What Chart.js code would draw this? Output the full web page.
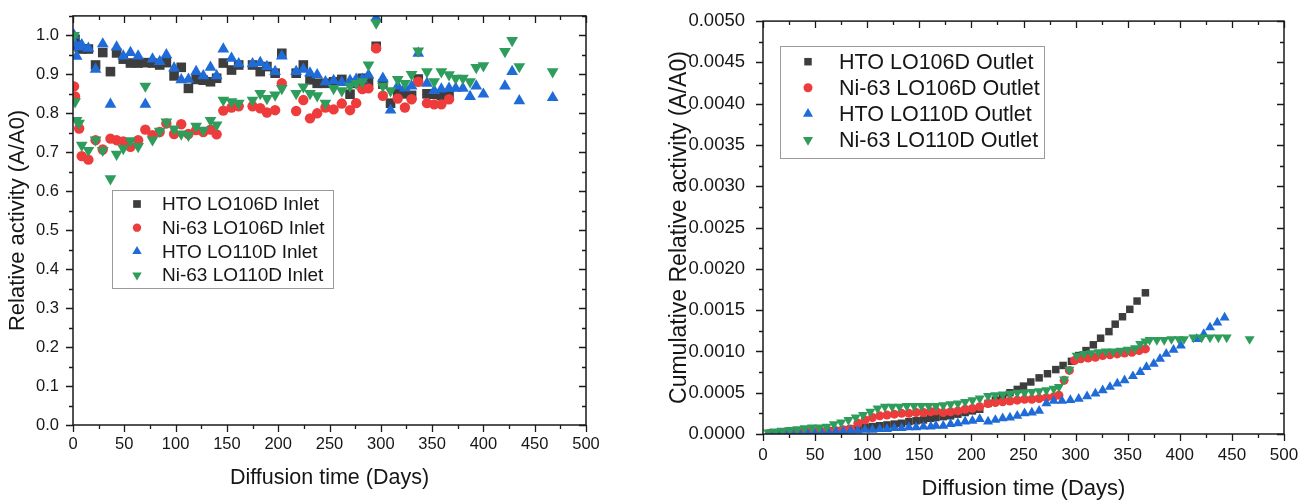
<!DOCTYPE html>
<html>
<head>
<meta charset="utf-8">
<script src="https://cdn.jsdelivr.net/npm/chart.js@4.4.1/dist/chart.umd.min.js"></script>
<style>
  body { margin: 0; background: #fff; width: 1311px; height: 502px; position: relative; overflow: hidden; }
  #inletWrap { position: absolute; left: 0; top: 0; }
  #outletWrap { position: absolute; left: 640px; top: 0; }
</style>
</head>
<body>
<div id="inletWrap"><canvas id="inletChart" width="625" height="502"></canvas></div>
<div id="outletWrap"><canvas id="outletChart" width="671" height="502"></canvas></div>
<script>
// ---- Inlet (left panel) ----
const inletDays = [1, 2, 3.5, 6, 8.5, 15, 22, 29, 36.5, 42.5, 49, 56, 63.5, 70.5, 77.5, 84.5, 91, 98.5, 105.5, 112.5,
  120, 127, 134, 140, 146.5, 154.5, 161.5, 175, 182.5, 189, 197, 203.5, 217.5, 224.5, 231, 238, 246, 254, 262, 270,
  276, 282, 288, 295.5, 302, 309.5, 316.5, 323.5, 330, 336.5, 345, 352, 359, 366.5, 373, 380, 387, 393, 400, 421,
  428, 435, 467.5];
const htoInlet106 = [null, 0.99, 0.975, 0.97, 0.965, 0.965, 0.924, 0.956, 0.907, 0.955, 0.939, 0.929, 0.929, 0.93, 0.929, 0.924, 0.93, 0.896, 0.918, 0.864,
  0.887, 0.885, 0.881, 0.89, 0.929, 0.911, 0.924, 0.924, 0.907, 0.92, 0.903, 0.954, 0.903, 0.924, 0.886, 0.877, 0.877, 0.881, 0.887, 0.849,
  0.877, 0.89, 0.881, 0.972, 0.875, 0.826, 0.85, 0.85, 0.846, 0.888, 0.85, 0.849, 0.846, 0.85, null, null, null, null, null, null,
  null, null, null];
const niInlet106 = [0.869, 0.843, null, 0.761, 0.69, 0.681, 0.731, 0.707, 0.735, 0.731, 0.728, 0.714, 0.731, 0.758, 0.744, 0.752, 0.774, 0.747, 0.772, 0.747,
  0.757, 0.752, 0.758, 0.746, 0.807, 0.815, 0.818, 0.818, 0.813, 0.802, 0.808, 0.877, 0.806, 0.834, 0.787, 0.8, 0.815, 0.81, 0.825, 0.808,
  0.826, 0.862, 0.864, 0.967, 0.845, null, 0.838, 0.815, 0.836, 0.881, 0.826, 0.823, 0.823, 0.836, null, null, null, null, null, null,
  null, null, null];
const htoInlet110 = [1.0, 0.978, 0.946, 0.97, 0.976, 0.967, 0.913, 0.978, 0.823, 0.97, 0.947, 0.956, 0.947, 0.823, 0.939, 0.933, 0.95, 0.916, 0.886, 0.887,
  0.907, 0.896, 0.918, 0.896, 0.965, 0.941, 0.927, 0.927, 0.93, 0.92, 0.907, 0.947, 0.907, 0.913, 0.903, 0.899, 0.881, 0.884, 0.879, 0.884,
  0.887, 0.887, 0.898, 1.045, 0.89, 0.808, 0.87, 0.865, 0.87, 0.954, 0.877, 0.858, 0.862, 0.864, 0.864, 0.864, 0.843, 0.87, 0.849, 0.87,
  0.907, 0.832, 0.84];
const niInlet110 = [1.0, 0.83, 0.782, 0.775, 0.718, 0.705, 0.732, 0.705, 0.632, 0.695, 0.71, 0.73, 0.715, 0.87, 0.732, 0.754, 0.778, 0.76, 0.747, 0.744,
  0.767, 0.757, 0.782, 0.77, 0.834, 0.83, 0.826, 0.834, 0.851, 0.838, 0.847, 0.864, 0.851, 0.868, 0.851, 0.845, 0.826, 0.864, 0.858, 0.87,
  0.877, 0.881, 0.924, 1.032, 0.87, 0.858, 0.887, 0.877, 0.9, 0.96, 0.907, 0.881, 0.907, 0.899, 0.89, 0.89, 0.881, 0.918, 0.922, 0.959,
  0.987, 0.92, 0.907];

// ---- Outlet (right panel), cumulative ----
const htoOutlet106Days = [7, 14, 21, 28, 35, 42, 49, 56, 63, 70, 77, 84, 91, 98, 105, 112, 119, 126, 133, 140, 147, 154, 161, 166,
  173, 180, 187, 194, 201, 208, 216, 223, 230, 237, 244, 250, 257, 265, 273, 281, 288, 296, 303, 310, 317, 324, 332, 338, 345, 352, 359, 367];
const htoOutlet106 = [0.00001, 0.00001, 0.00002, 0.00002, 0.00002, 0.00003, 0.00003, 0.00003, 0.00004, 0.00004, 0.00005, 0.00006,
  0.00007, 0.00008, 0.00009, 0.0001, 0.00011, 0.00012, 0.00013, 0.00015, 0.00016, 0.00017, 0.00019, 0.0002,
  0.00021, 0.00022, 0.00024, 0.00026, 0.00028, 0.0003, 0.00037, 0.00041, 0.00045, 0.0005, 0.00054, 0.00058,
  0.00063, 0.00068, 0.00073, 0.00078, 0.00083, 0.00088, 0.00095, 0.00101, 0.00108, 0.00116, 0.00124, 0.00133,
  0.00142, 0.00151, 0.00161, 0.00171];
const niOutlet106Days = [7, 14, 21, 28, 35, 42, 49, 56, 63, 70, 77, 84, 91, 98, 105, 112, 119, 126, 133, 140, 147, 154, 161, 166,
  173, 180, 187, 194, 201, 208, 216, 223, 230, 237, 244, 251, 258, 265, 272, 279, 284, 289, 294, 299, 305, 312, 319, 326, 333, 340,
  347, 354, 361, 367];
const niOutlet106 = [0.00001, 0.00001, 0.00002, 0.00002, 0.00002, 0.00003, 0.00003, 0.00003, 0.00004, 0.00004, 0.00005, 0.00006,
  0.00013, 0.00017, 0.0002, 0.00022, 0.00023, 0.00024, 0.00025, 0.00025, 0.00026, 0.00026, 0.00027, 0.00028,
  0.00026, 0.00027, 0.00028, 0.0003, 0.00031, 0.00033, 0.00037, 0.00038, 0.00039, 0.0004, 0.00041, 0.00042,
  0.00042, 0.00043, 0.00044, 0.00045, 0.00047, 0.00065, 0.00077, 0.00089, 0.00091, 0.00092, 0.00093, 0.00095,
  0.00096, 0.00097, 0.00098, 0.00099, 0.00101, 0.00103];
const htoOutlet110Days = [7, 14, 21, 28, 35, 42, 49, 56, 63, 70, 77, 84, 91, 98, 105, 112, 119, 126, 133, 140, 147, 154, 161, 166,
  173, 180, 187, 194, 201, 208, 216, 223, 230, 237, 244, 251, 258, 265, 272, 279, 287, 295, 303, 311, 319, 326, 333, 340, 347, 355,
  362, 368, 375, 381, 387, 394, 401, 416, 423, 429, 436, 443];
const htoOutlet110 = [0, 0.00001, 0.00001, 0.00001, 0.00001, 0.00002, 0.00002, 0.00002, 0.00002, 0.00003, 0.00003, 0.00004,
  0.00004, 0.00005, 0.00005, 0.00006, 0.00006, 0.00007, 0.00007, 0.00008, 0.00008, 0.00009, 0.00009, 0.0001,
  0.0001, 0.00012, 0.00013, 0.00015, 0.00016, 0.00018, 0.00015, 0.00017, 0.00019, 0.0002, 0.00022, 0.00025,
  0.00026, 0.00028, 0.00037, 0.0004, 0.0004, 0.00041, 0.000425, 0.000456, 0.00049, 0.00053, 0.00057, 0.00061,
  0.00065, 0.0007, 0.00075, 0.00081, 0.00085, 0.00091, 0.00097, 0.00102, 0.00107, 0.00115, 0.00121, 0.00129,
  0.00135, 0.00141];
const niOutlet110Days = [5, 12, 19, 26, 33, 40, 47, 54, 61, 68, 75, 82, 89, 96, 103, 110, 117, 124, 131, 138, 145, 152, 159, 166,
  173, 180, 187, 194, 201, 208, 216, 223, 230, 237, 244, 251, 258, 265, 272, 279, 284, 289, 294, 301, 308, 315, 322, 329, 336, 343,
  350, 357, 362, 367, 371, 378, 385, 392, 399, 404, 413, 421, 429, 437, 445, 467];
const niOutlet110 = [0.00002, 0.00003, 0.00004, 0.00005, 0.00006, 0.00007, 0.00008, 0.00008, 0.00009, 0.00012, 0.00014, 0.00017,
  0.0002, 0.00023, 0.00027, 0.00031, 0.00033, 0.00033, 0.00033, 0.00034, 0.00034, 0.00034, 0.00034, 0.00034,
  0.00035, 0.00036, 0.00037, 0.00039, 0.00041, 0.00043, 0.00046, 0.00047, 0.00048, 0.00049, 0.0005, 0.0005,
  0.00051, 0.00052, 0.00053, 0.00055, 0.00057, 0.00066, 0.00078, 0.00095, 0.00097, 0.00098, 0.00099, 0.001,
  0.001, 0.00101, 0.00102, 0.00104, 0.00109, 0.00112, 0.00114, 0.00114, 0.00114, 0.00115, 0.00115, 0.00115,
  0.00117, 0.00117, 0.00117, 0.00117, 0.00117, 0.00115];

const xTicks = [0, 50, 100, 150, 200, 250, 300, 350, 400, 450, 500];

const FONT = "'Liberation Sans', Arial, sans-serif";
const BLACK = "#3d3d3d", RED = "#ee3b3b", BLUE = "#1f6bd8", GREEN = "#2e9d5c";

Chart.defaults.font.family = FONT;
Chart.defaults.color = "#161616";

function pts(days, vals) {
  return days.map((d, i) => ({ x: d, y: vals[i] })).filter(p => p.y !== null);
}

function series(label, data, color, style, r, rot, order) {
  return {
    label: label,
    data: data,
    backgroundColor: color,
    borderColor: color,
    borderWidth: 0,
    pointStyle: style,
    pointRotation: rot,
    pointRadius: r,
    pointHoverRadius: r,
    order: order,
  };
}

// frame with ticks on all four sides (outward bottom/left, inward top/right)
const frameTicks = {
  id: "frameTicks",
  afterDatasetsDraw(chart, args, o) {
    const { ctx, chartArea: a, scales } = chart;
    const x = scales.x, y = scales.y;
    ctx.save();
    ctx.strokeStyle = "#1a1a1a";
    ctx.lineWidth = 1.5;
    ctx.strokeRect(a.left, a.top, a.right - a.left, a.bottom - a.top);
    ctx.lineWidth = 1.3;
    ctx.beginPath();
    for (let i = 0; i <= Math.round((x.max - x.min) / o.xMinor); i++) {
      const v = x.min + i * o.xMinor;
      const px = Math.round(x.getPixelForValue(v)) + 0.5;
      const len = i % 2 === 0 ? 7 : 4;
      ctx.moveTo(px, a.bottom); ctx.lineTo(px, a.bottom + len);
      ctx.moveTo(px, a.top); ctx.lineTo(px, a.top + len);
    }
    for (let i = 0; i <= Math.floor((y.max - y.min) / o.yMinor + 1e-6); i++) {
      const v = y.min + i * o.yMinor;
      const py = Math.round(y.getPixelForValue(v)) + 0.5;
      const len = i % 2 === 0 ? 7 : 4;
      ctx.moveTo(a.left, py); ctx.lineTo(a.left - len, py);
      ctx.moveTo(a.right, py); ctx.lineTo(a.right - len, py);
    }
    ctx.stroke();
    ctx.restore();
  },
};

// boxed legend placed inside the plot
const boxLegend = {
  id: "boxLegend",
  afterDraw(chart, args, o) {
    const ctx = chart.ctx;
    ctx.save();
    ctx.fillStyle = "#fff";
    ctx.fillRect(o.x, o.y, o.w, o.h);
    ctx.strokeStyle = "#9a9a9a";
    ctx.lineWidth = 1;
    ctx.strokeRect(o.x + 0.5, o.y + 0.5, o.w, o.h);
    ctx.font = o.size + "px " + FONT;
    ctx.textBaseline = "middle";
    ctx.textAlign = "left";
    chart.data.datasets.forEach((ds, i) => {
      const cy = o.y + o.first + i * o.rowH;
      ctx.fillStyle = ds.backgroundColor;
      ctx.strokeStyle = ds.borderColor;
      Chart.helpers.drawPoint(ctx, {
        pointStyle: ds.pointStyle,
        rotation: ds.pointRotation,
        radius: ds.pointRadius * o.markerScale,
        borderWidth: 0,
      }, o.markerX, cy);
      ctx.fillStyle = "#161616";
      ctx.fillText(ds.label, o.textX, cy + 1);
    });
    ctx.restore();
  },
};

function xScale(fontSize, pad, titleSize, titleBottom, height) {
  return {
    type: "linear",
    min: 0,
    max: 500,
    grid: { display: false },
    border: { display: false },
    afterBuildTicks: (s) => { s.ticks = xTicks.map(v => ({ value: v })); },
    ticks: { padding: pad, font: { size: fontSize }, color: "#161616" },
    title: { display: true, text: "Diffusion time (Days)", font: { size: titleSize }, color: "#161616", padding: { top: 0, bottom: titleBottom } },
    afterFit: (s) => { s.height = height; },
  };
}

// Inlet chart
new Chart(document.getElementById("inletChart"), {
  type: "scatter",
  data: {
    datasets: [
      series("HTO LO106D Inlet", pts(inletDays, htoInlet106), BLACK, "rect", 6.8, 0, 4),
      series("Ni-63 LO106D Inlet", pts(inletDays, niInlet106), RED, "circle", 5.2, 0, 3),
      series("HTO LO110D Inlet", pts(inletDays, htoInlet110), BLUE, "triangle", 6.8, 0, 2),
      series("Ni-63 LO110D Inlet", pts(inletDays, niInlet110), GREEN, "triangle", 6.8, 180, 1),
    ],
  },
  options: {
    responsive: false,
    animation: false,
    layout: { padding: { top: 12, right: 39, left: 0, bottom: 0 } },
    plugins: {
      legend: { display: false },
      tooltip: { enabled: false },
      frameTicks: { xMinor: 25, yMinor: 0.05 },
      boxLegend: { x: 112, y: 190, w: 221, h: 98, first: 14, rowH: 23.7, markerX: 137, textX: 162, size: 19, markerScale: 0.8 },
    },
    scales: {
      x: xScale(16.5, 2, 21.5, 11, 77),
      y: {
        min: 0,
        max: 1.05,
        grid: { display: false },
        border: { display: false },
        ticks: { stepSize: 0.1, includeBounds: false, padding: 6, font: { size: 16.5 }, color: "#161616", callback: (v) => v.toFixed(1) },
        title: { display: true, text: "Relative activity (A/A0)", font: { size: 22 }, color: "#161616", padding: { top: 5, bottom: 0 } },
        afterFit: (s) => { s.width = 73; },
      },
    },
  },
  plugins: [frameTicks, boxLegend],
});

// Outlet chart
new Chart(document.getElementById("outletChart"), {
  type: "scatter",
  data: {
    datasets: [
      series("HTO LO106D Outlet", pts(htoOutlet106Days, htoOutlet106), BLACK, "rect", 5.3, 0, 4),
      series("Ni-63 LO106D Outlet", pts(niOutlet106Days, niOutlet106), RED, "circle", 4.5, 0, 3),
      series("HTO LO110D Outlet", pts(htoOutlet110Days, htoOutlet110), BLUE, "triangle", 5.8, 0, 2),
      series("Ni-63 LO110D Outlet", pts(niOutlet110Days, niOutlet110), GREEN, "triangle", 5.8, 180, 1),
    ],
  },
  options: {
    responsive: false,
    animation: false,
    layout: { padding: { top: 15, right: 27, left: 0, bottom: 0 } },
    plugins: {
      legend: { display: false },
      tooltip: { enabled: false },
      frameTicks: { xMinor: 25, yMinor: 0.00025 },
      boxLegend: { x: 140, y: 46, w: 264, h: 112, first: 15.7, rowH: 26.1, markerX: 168, textX: 199, size: 21.5, markerScale: 1.0 },
    },
    scales: {
      x: xScale(17, 3, 22, 0, 68),
      y: {
        min: 0,
        max: 0.005,
        grid: { display: false },
        border: { display: false },
        ticks: { stepSize: 0.0005, padding: 10, font: { size: 18.5 }, color: "#161616", callback: (v) => v.toFixed(4) },
        title: { display: true, text: "Cumulative Relative activity (A/A0)", font: { size: 23 }, color: "#161616", padding: { top: 26, bottom: 0 } },
        afterFit: (s) => { s.width = 123; },
      },
    },
  },
  plugins: [frameTicks, boxLegend],
});
</script>
</body>
</html>
